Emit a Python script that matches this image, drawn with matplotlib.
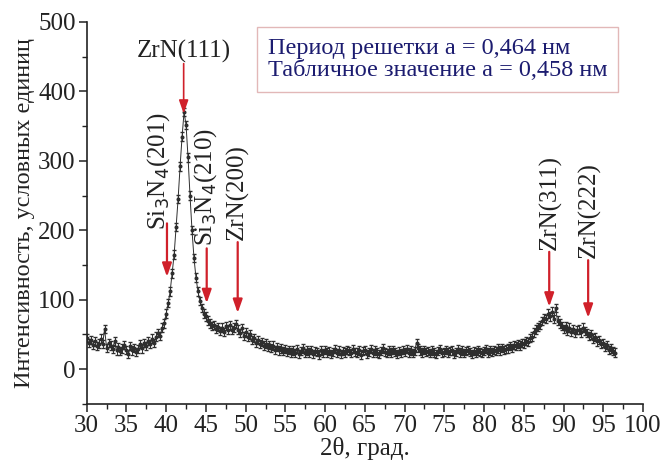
import numpy as np
import matplotlib
matplotlib.use("Agg")
import matplotlib.pyplot as plt
from matplotlib.ticker import MultipleLocator

plt.rcParams['font.family'] = ['Liberation Serif', 'DejaVu Serif']

# 2-theta grid, 0.25 deg step, 30.0 ... 96.5
two_theta_start = 30.0
two_theta_step = 0.25

intensity = [
    45, 38, 42, 35,   # 30
    40, 33, 37, 44,   # 31
    36, 58, 31, 38,   # 32
    34, 29, 40, 27,   # 33
    32, 26, 30, 35,   # 34
    28, 22, 33, 27,   # 35
    31, 25, 29, 36,   # 36
    30, 38, 33, 41,   # 37
    36, 44, 38, 47,   # 38
    52, 48, 60, 66,   # 39
    80, 95, 112, 138,  # 40
    165, 205, 245, 292,  # 41
    335, 370, 352, 305,  # 42
    250, 200, 160, 132,  # 43
    112, 98, 88, 80,  # 44
    76, 70, 66, 62,   # 45
    64, 58, 61, 55,   # 46
    60, 54, 62, 57,   # 47
    63, 56, 60, 65,   # 48
    57, 52, 59, 48,   # 49
    53, 46, 50, 42,   # 50
    45, 38, 42, 36,   # 51
    39, 34, 37, 32,   # 52
    35, 31, 34, 28,   # 53
    32, 27, 30, 26,   # 54
    29, 25, 28, 24,   # 55
    27, 23, 29, 22,   # 56
    26, 30, 23, 27,   # 57
    24, 28, 22, 26,   # 58
    25, 21, 27, 23,   # 59
    28, 24, 26, 22,   # 60
    25, 29, 23, 27,   # 61
    22, 26, 24, 28,   # 62
    26, 23, 29, 25,   # 63
    24, 27, 21, 26,   # 64
    28, 22, 25, 29,   # 65
    23, 27, 24, 22,   # 66
    26, 30, 25, 23,   # 67
    27, 24, 28, 25,   # 68
    22, 26, 23, 28,   # 69
    25, 29, 24, 27,   # 70
    23, 26, 38, 31,   # 71
    27, 24, 28, 25,   # 72
    26, 23, 27, 24,   # 73
    22, 26, 29, 23,   # 74
    25, 28, 24, 26,   # 75
    27, 22, 25, 29,   # 76
    24, 27, 23, 26,   # 77
    28, 25, 22, 26,   # 78
    24, 27, 25, 23,   # 79
    26, 29, 24, 27,   # 80
    25, 28, 26, 30,   # 81
    27, 31, 28, 29,   # 82
    30, 33, 31, 35,   # 83
    33, 36, 34, 38,   # 84
    37, 41, 39, 45,   # 85
    47, 53, 57, 61,   # 86
    64, 69, 74, 72,   # 87
    80, 76, 83, 72,   # 88
    88, 70, 66, 62,   # 89
    58, 62, 55, 60,   # 90
    54, 58, 52, 56,   # 91
    57, 53, 60, 55,   # 92
    52, 48, 50, 44,   # 93
    46, 40, 42, 36,   # 94
    38, 32, 35, 28,   # 95
    30, 26, 24,       # 96
]

# peak markers: 2theta, arrow start and arrow tip (intensity units)
peak_pos = [42.2, 40.1, 45.1, 49.0, 88.2, 93.1]
arrow_top = [440, 210, 174, 183, 169, 157]
arrow_tip = [368, 133, 95, 81, 90, 74]

# vertical peak labels: text, 2theta of centre, intensity at lower end
vlabel_text = ['Si$_3$N$_4$(201)', 'Si$_3$N$_4$(210)', 'ZrN(200)',
               'ZrN(311)', 'ZrN(222)']
vlabel_x = [39.1, 44.9, 48.9, 88.3, 93.2]
vlabel_y = [200, 177, 186, 171, 160]

box_lines = ['Период решетки а = 0,464 нм', 'Табличное значение а = 0,458 нм']

x = two_theta_start + two_theta_step * np.arange(len(intensity))
y = np.array(intensity, dtype=float)

fig = plt.figure(figsize=(6.67, 4.67), dpi=100)
ax = fig.add_axes([0.130, 0.135, 0.834, 0.818])

ax.errorbar(x, y, yerr=6, fmt='-', color='#2e2e2e', lw=0.7, marker='o',
            ms=1.9, elinewidth=0.7, capsize=1.2, zorder=2)

ax.set_xlim(30, 100)
ax.set_ylim(-50, 500)
ax.xaxis.set_major_locator(MultipleLocator(5))
ax.xaxis.set_minor_locator(MultipleLocator(2.5))
ax.yaxis.set_minor_locator(MultipleLocator(50))
ax.set_yticks([0, 100, 200, 300, 400, 500])
ax.spines['top'].set_visible(False)
ax.spines['right'].set_visible(False)
for s in ('left', 'bottom'):
    ax.spines[s].set_linewidth(1.2)
    ax.spines[s].set_color('#222222')
ax.tick_params(which='major', direction='out', length=6, width=1.1,
               labelsize=18, colors='#222222', pad=2)
ax.tick_params(which='minor', direction='out', length=3.5, width=1.0,
               colors='#222222')

ax.set_xlabel('2θ, град.', fontsize=18, color='#222222', labelpad=0)
ax.set_ylabel('Интенсивность, условных единиц', fontsize=17.5,
              color='#222222', labelpad=2)

red = '#d0202a'
for i, (px, top, tip) in enumerate(zip(peak_pos, arrow_top, arrow_tip)):
    shaft = '#8c3a3a' if i == 0 else red
    ax.annotate('', xy=(px, tip), xytext=(px, top),
                arrowprops=dict(arrowstyle='-|>,head_length=0.8,head_width=0.28',
                                color=shaft, lw=1.6 if i else 1.2,
                                shrinkA=0, shrinkB=0, fc=red, ec=red),
                zorder=3)

ax.text(42.2, 441, 'ZrN(111)', ha='center', va='bottom', fontsize=18,
        color='#222222')
for t, lx, ly in zip(vlabel_text, vlabel_x, vlabel_y):
    ax.text(lx, ly, t, rotation=90, ha='center', va='bottom', fontsize=18,
            color='#222222')

ax.text(0.3255, 0.902, box_lines[0] + '\n' + box_lines[1],
        transform=ax.transAxes, ha='left', va='center', fontsize=17.5,
        color='#1c1c70', linespacing=1.1,
        bbox=dict(boxstyle='square,pad=0.45', fc='white', ec='#e2b8b8', lw=1.0))

fig.savefig('out.png', dpi=100)
